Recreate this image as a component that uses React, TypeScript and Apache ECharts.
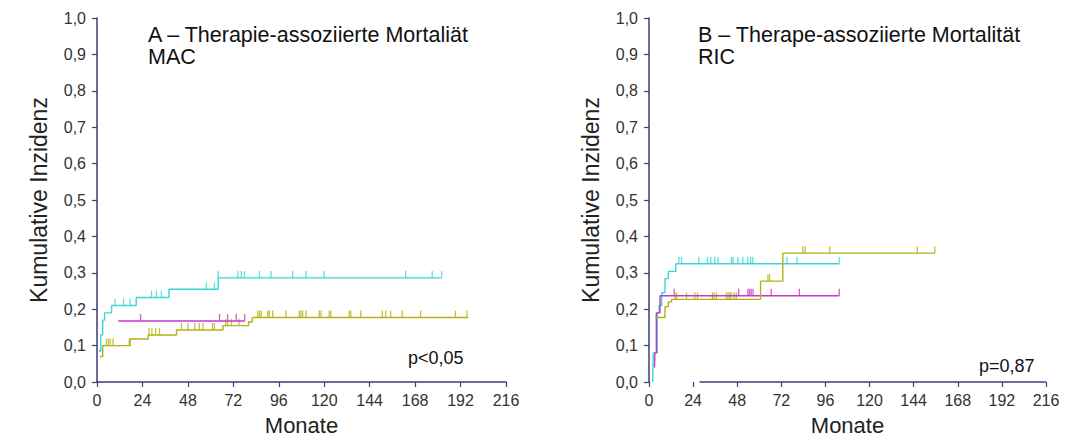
import React, { useEffect, useRef } from "react";
import * as echarts from "echarts";

type Pt = [number, number];

// ---- Panel A (MAC) ----
const macCyan: Pt[] = [[1, 0.085], [2, 0.13], [3, 0.17], [4, 0.19], [7.7, 0.21], [20.7, 0.232], [38, 0.255], [64, 0.286], [182, 0.286]];
const macCyanCens = [9.5, 14, 17.4, 28.8, 31.4, 34, 57.7, 62, 64, 74.4, 76.2, 77.9, 85.8, 91.9, 103.3, 110.4, 120, 163, 177, 182];
const macMagenta: Pt[] = [[11.2, 0.1675], [78, 0.1675]];
const macMagentaCens = [23, 64.7, 69, 73.5, 78];
const macOlive: Pt[] = [[1.5, 0.07], [3, 0.1], [17.5, 0.118], [27, 0.129], [42, 0.143], [66.5, 0.155], [80, 0.165], [82, 0.177], [196, 0.177]];
const macOliveCens = [5, 6, 7, 8.5, 17, 27.5, 29, 31, 33, 44.6, 48, 51.6, 54, 56, 61, 62, 68, 69, 71, 75, 84.9, 85.8, 86.7, 90.2, 91, 92.8, 99.8, 106.8, 107.7, 108.6, 110.4, 117.4, 118.3, 122.6, 123.5, 133.2, 134, 139.3, 150.7, 152.5, 155.1, 161.2, 170.9, 189.3, 195.4];

// ---- Panel B (RIC) ----
const ricCyan: Pt[] = [[2, 0.0], [2.3, 0.08], [4.5, 0.19], [5.5, 0.21], [6.9, 0.245], [8.7, 0.284], [10.5, 0.304], [14.6, 0.325], [103.5, 0.325]];
const ricCyanCens = [16.3, 17.7, 27.1, 31.8, 33.6, 35.8, 37.6, 44.8, 45.7, 48.4, 51.1, 53.8, 55.3, 56.5, 75.1, 80.5, 103.5];
const ricMagenta: Pt[] = [[3, 0.04], [3.2, 0.08], [4, 0.19], [6, 0.237], [103.5, 0.237]];
const ricMagentaCens = [13.7, 48.8, 53.8, 54.7, 55.6, 56.6, 66.5, 81.8, 103.5];
const ricOlive: Pt[] = [[3.3, 0.177], [8.7, 0.207], [10.5, 0.22], [12.3, 0.227], [60.7, 0.277], [72.8, 0.354], [155.5, 0.354]];
const ricOliveCens = [14.1, 15, 20.4, 24.9, 26.4, 34.5, 35.4, 36.7, 42.1, 43, 43.9, 44.8, 46.3, 47.5, 64.7, 65.6, 83.6, 84.9, 98.4, 146, 155.5];

const titleA = "A – Therapie-assoziierte Mortaliät\nMAC";
const titleB = "B – Therape-assoziierte Mortalität\nRIC";
const pA = "p<0,05";
const pB = "p=0,87";
const yName = "Kumulative Inzidenz";
const xName = "Monate";
const ricAxisStart = 27.5;

const CYAN = "#3ad6d6";
const MAGENTA = "#c63ac6";
const OLIVE = "#b2b214";
const AXIS = "#3d3d7a";
const FONT = "Liberation Sans, Arial, sans-serif";

function levelAt(curve: Pt[], t: number): number {
  let v = curve[0][1];
  for (const p of curve) {
    if (p[0] <= t + 1e-9) v = p[1];
  }
  return v;
}

export default function App() {
  const ref = useRef<HTMLDivElement>(null);
  useEffect(() => {
    document.body.style.margin = "0";
    const chart = echarts.init(ref.current!, null, { renderer: "svg" });

    const mkLine = (data: Pt[], color: string, idx: number) => ({
      type: "line",
      xAxisIndex: idx,
      yAxisIndex: idx,
      data,
      step: "end",
      symbol: "none",
      lineStyle: { color, width: 1.4 },
      silent: true,
    });
    const mkCens = (curve: Pt[], cens: number[], color: string, idx: number) => ({
      type: "scatter",
      xAxisIndex: idx,
      yAxisIndex: idx,
      data: cens.map((t) => [t, levelAt(curve, t)]),
      symbol: "rect",
      symbolSize: [1.3, 7],
      symbolOffset: [0, -3.5],
      itemStyle: { color },
      silent: true,
    });

    const xAxisBase = (idx: number, showLine: boolean) => ({
      type: "value",
      gridIndex: idx,
      min: 0,
      max: 216,
      interval: 24,
      splitLine: { show: false },
      axisLine: { show: showLine, onZero: false, lineStyle: { color: AXIS, width: 1.5 } },
      axisTick: { show: true, length: 5, lineStyle: { color: AXIS, width: 1.2 } },
      axisLabel: { color: "#333", fontSize: 16, fontFamily: FONT, margin: 10 },
      name: xName,
      nameLocation: "middle",
      nameGap: 32,
      nameTextStyle: { color: "#222", fontSize: 22, fontFamily: FONT },
    });
    const yAxisBase = (idx: number) => ({
      type: "value",
      gridIndex: idx,
      min: 0,
      max: 1,
      interval: 0.1,
      splitLine: { show: false },
      axisLine: { show: true, lineStyle: { color: AXIS, width: 1.5 } },
      axisTick: { show: true, length: 5, lineStyle: { color: AXIS, width: 1.2 } },
      axisLabel: {
        color: "#333",
        fontSize: 16,
        fontFamily: FONT,
        margin: 11,
        formatter: (v: number) => v.toFixed(1).replace(".", ","),
      },
      name: yName,
      nameLocation: "middle",
      nameRotate: 90,
      nameGap: 47,
      nameTextStyle: { color: "#222", fontSize: 23, fontFamily: FONT },
    });

    const titleStyle = { fontSize: 21.5, fontWeight: "normal", color: "#111", fontFamily: FONT, lineHeight: 22 };
    chart.setOption({
      animation: false,
      backgroundColor: "#ffffff",
      title: [
        { text: titleA, left: 143, top: 19, textStyle: titleStyle },
        { text: titleB, left: 693, top: 19, textStyle: titleStyle },
        { text: pA, left: 403, top: 344, textStyle: { fontSize: 18, fontWeight: "normal", color: "#111", fontFamily: FONT } },
        { text: pB, left: 974, top: 352, textStyle: { fontSize: 18, fontWeight: "normal", color: "#111", fontFamily: FONT } },
      ],
      grid: [
        { left: 97, top: 18, width: 409, height: 366 },
        { left: 649, top: 18, width: 397, height: 366 },
      ],
      xAxis: [xAxisBase(0, true), xAxisBase(1, false)],
      yAxis: [yAxisBase(0), yAxisBase(1)],
      series: [
        mkLine(macCyan, CYAN, 0),
        mkLine(macMagenta, MAGENTA, 0),
        mkLine(macOlive, OLIVE, 0),
        mkCens(macCyan, macCyanCens, CYAN, 0),
        mkCens(macMagenta, macMagentaCens, MAGENTA, 0),
        mkCens(macOlive, macOliveCens, OLIVE, 0),
        {
          ...mkLine(ricCyan, CYAN, 1),
          markLine: {
            silent: true,
            symbol: "none",
            label: { show: false },
            lineStyle: { color: AXIS, width: 1.5, type: "solid" },
            data: [[{ coord: [ricAxisStart, 0] }, { coord: [216, 0] }]],
          },
        },
        mkLine(ricMagenta, MAGENTA, 1),
        mkLine(ricOlive, OLIVE, 1),
        mkCens(ricCyan, ricCyanCens, CYAN, 1),
        mkCens(ricMagenta, ricMagentaCens, MAGENTA, 1),
        mkCens(ricOlive, ricOliveCens, OLIVE, 1),
      ],
    });
    return () => chart.dispose();
  }, []);
  return <div ref={ref} style={{ width: 1075, height: 441 }} />;
}
